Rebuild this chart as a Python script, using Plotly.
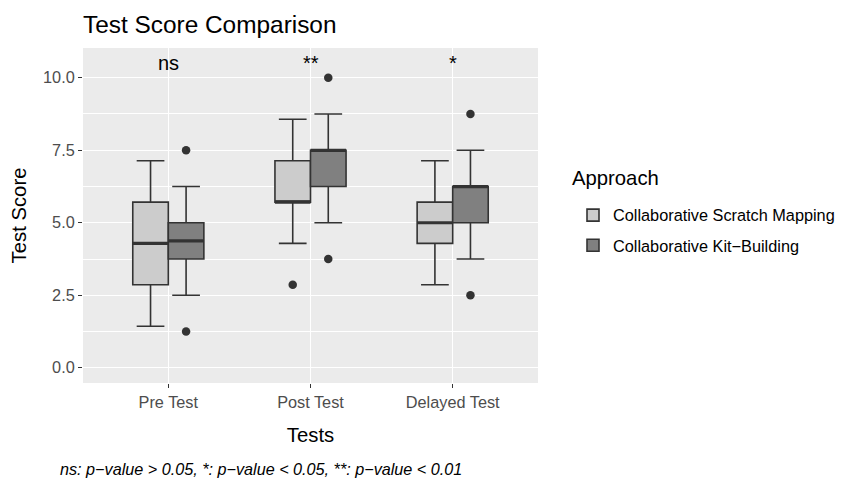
import plotly.graph_objects as go

tests = ["Pre Test", "Post Test", "Delayed Test"]
approaches = ["Collaborative Scratch Mapping", "Collaborative Kit\u2212Building"]

scratch_lower = [1.43, 4.29, 2.86]
scratch_q1 = [2.86, 5.71, 4.29]
scratch_median = [4.29, 5.71, 5.00]
scratch_q3 = [5.71, 7.14, 5.71]
scratch_upper = [7.14, 8.57, 7.14]
scratch_out_test = ["Post Test"]
scratch_out_value = [2.86]

kit_lower = [2.50, 5.00, 3.75]
kit_q1 = [3.75, 6.25, 5.00]
kit_median = [4.375, 7.50, 6.25]
kit_q3 = [5.00, 7.50, 6.25]
kit_upper = [6.25, 8.75, 7.50]
kit_out_test = ["Pre Test", "Pre Test", "Post Test", "Post Test", "Delayed Test", "Delayed Test"]
kit_out_value = [7.50, 1.25, 10.00, 3.75, 8.75, 2.50]

sig_labels = ["ns", "**", "*"]
sig_y = 10.5

y_ticks = [0.0, 2.5, 5.0, 7.5, 10.0]
y_minor = [1.25, 3.75, 6.25, 8.75]

FONT = "Liberation Sans, Arial, Helvetica, sans-serif"
LINE = "#333333"
FILLS = ["#CCCCCC", "#808080"]
DODGE = 0.125
BOXW = 0.25
W, H = 851, 482
PL, PR, PT, PB = 83, 538, 48, 383

idx = {t: i for i, t in enumerate(tests)}

series = [
    (scratch_lower, scratch_q1, scratch_median, scratch_q3, scratch_upper, scratch_out_test, scratch_out_value),
    (kit_lower, kit_q1, kit_median, kit_q3, kit_upper, kit_out_test, kit_out_value),
]

fig = go.Figure()
for k, (lo, q1, med, q3, up, ot, ov) in enumerate(series):
    off = -DODGE if k == 0 else DODGE
    xs = [i + off for i in range(len(tests))]
    fig.add_trace(go.Box(
        name=approaches[k], legendgroup=f"g{k}",
        x=xs, q1=q1, median=med, q3=q3, lowerfence=lo, upperfence=up,
        width=BOXW, whiskerwidth=0.78,
        fillcolor=FILLS[k], line=dict(color=LINE, width=1.6),
        boxpoints=False, hoverinfo="skip",
    ))
    # thicker median line (ggplot fatten)
    mx, my = [], []
    for x, m in zip(xs, med):
        mx += [x - BOXW / 2, x + BOXW / 2, None]
        my += [m, m, None]
    fig.add_trace(go.Scatter(x=mx, y=my, mode="lines", line=dict(color=LINE, width=3.2),
                             showlegend=False, hoverinfo="skip"))
    fig.add_trace(go.Scatter(
        x=[idx[t] + off for t in ot], y=ov, mode="markers",
        marker=dict(color=LINE, size=8.5), showlegend=False, hoverinfo="skip",
    ))

for i, lab in enumerate(sig_labels):
    fig.add_annotation(x=i, y=sig_y, text=lab, showarrow=False, xref="x", yref="y",
                       font=dict(family=FONT, size=20, color="black"), yanchor="middle")

pw, ph = PR - PL, PB - PT
fig.add_annotation(text="<i>ns: p\u2212value > 0.05, *: p\u2212value < 0.05, **: p\u2212value < 0.01</i>",
                   xref="paper", yref="paper", x=(58 - PL) / pw, y=-(469 - PB) / ph,
                   xanchor="left", yanchor="middle", showarrow=False,
                   font=dict(family=FONT, size=16.2, color="black"))
fig.add_annotation(text="Approach", xref="paper", yref="paper",
                   x=(570 - PL) / pw, y=(PB - 178) / ph, xanchor="left", yanchor="middle",
                   showarrow=False, font=dict(family=FONT, size=20.3, color="black"))

fig.update_layout(
    width=W, height=H,
    margin=dict(l=PL, r=W - PR, t=PT, b=H - PB, autoexpand=False),
    paper_bgcolor="white", plot_bgcolor="#EBEBEB",
    font=dict(family=FONT, color="black"),
    title=dict(text="Test Score Comparison", x=PL / W, xanchor="left",
               y=1 - 24 / H, yanchor="middle", font=dict(size=24.4, color="black")),
    boxmode="overlay",
    showlegend=True,
    legend=dict(font=dict(size=16.3, color="black"),
                xref="container", yref="container", x=573 / W, y=1 - 198 / H,
                xanchor="left", yanchor="top", bgcolor="rgba(0,0,0,0)",
                tracegroupgap=6),
)
fig.update_xaxes(
    range=[-0.6, 2.6], tickmode="array", tickvals=list(range(len(tests))), ticktext=tests,
    showgrid=True, gridcolor="white", gridwidth=1.2, zeroline=False,
    ticks="outside", ticklen=4, tickcolor=LINE, tickwidth=1,
    tickfont=dict(size=16.3, color="#4D4D4D"),
    title=dict(text="Tests", font=dict(size=20.3, color="black"), standoff=18),
)
fig.update_yaxes(
    range=[-0.525, 11.025], tickmode="array", tickvals=y_ticks,
    ticktext=[f"{v:.1f}" for v in y_ticks],
    showgrid=True, gridcolor="white", gridwidth=1.2, zeroline=False,
    ticks="outside", ticklen=4, tickcolor=LINE, tickwidth=1,
    tickfont=dict(size=16.3, color="#4D4D4D"),
    minor=dict(tickmode="array", tickvals=y_minor, showgrid=True, gridcolor="white", gridwidth=0.6, ticks=""),
    title=dict(text="Test Score", font=dict(size=20.3, color="black"), standoff=10),
)

fig.write_html("out.html", config={"displayModeBar": False},
               post_script="document.body.style.margin='0';")
